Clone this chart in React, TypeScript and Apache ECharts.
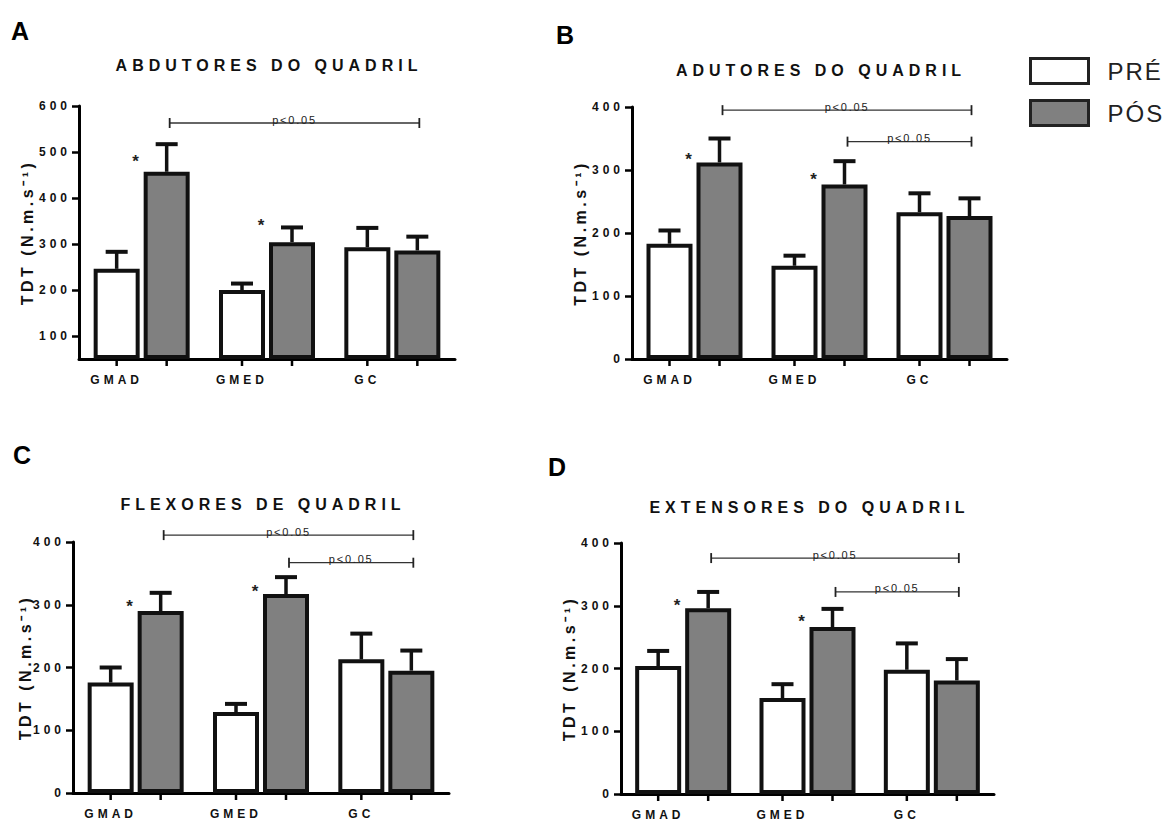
import React, { useEffect, useRef } from 'react';
import * as echarts from 'echarts';

// ---------- data ----------
const categories = ['GMAD', 'GMED', 'GC'];
const groupNames = ['PRÉ', 'PÓS'];
const panelLetters = ['A', 'B', 'C', 'D'];
const panelTitles = [
  'ABDUTORES DO QUADRIL',
  'ADUTORES DO QUADRIL',
  'FLEXORES DE QUADRIL',
  'EXTENSORES DO QUADRIL',
];
const yName = 'TDT (N.m.s⁻¹)';
const pText = 'p<0.05';

// A - abdutores
const preA = [246, 200, 293];
const preErrA = [37, 14, 42];
const posA = [457, 304, 286];
const posErrA = [60, 32, 30];
const starA = [489, 349, null];
const bracketsA = [[0, 2, 563]];
const yTicksA = [100, 200, 300, 400, 500, 600];

// B - adutores
const preB = [183, 148, 233];
const preErrB = [21, 16, 30];
const posB = [312, 277, 227];
const posErrB = [38, 37, 28];
const starB = [323, 291, null];
const bracketsB = [[0, 2, 395], [1, 2, 345]];

// C - flexores
const preC = [176, 129, 213];
const preErrC = [24, 13, 41];
const posC = [290, 317, 195];
const posErrC = [29, 27, 32];
const starC = [303, 328, null];
const bracketsC = [[0, 2, 411], [1, 2, 367]];

// D - extensores
const preD = [204, 153, 198];
const preErrD = [24, 22, 42];
const posD = [296, 266, 181];
const posErrD = [26, 29, 34];
const starD = [307, 282, null];
const bracketsD = [[0, 2, 376], [1, 2, 322]];

const yTicks400 = [0, 100, 200, 300, 400];

const panels = [
  { pre: preA, preErr: preErrA, pos: posA, posErr: posErrA, stars: starA, brackets: bracketsA, yMin: 50, yMax: 600, ticks: yTicksA },
  { pre: preB, preErr: preErrB, pos: posB, posErr: posErrB, stars: starB, brackets: bracketsB, yMin: 0, yMax: 400, ticks: yTicks400 },
  { pre: preC, preErr: preErrC, pos: posC, posErr: posErrC, stars: starC, brackets: bracketsC, yMin: 0, yMax: 400, ticks: yTicks400 },
  { pre: preD, preErr: preErrD, pos: posD, posErr: posErrD, stars: starD, brackets: bracketsD, yMin: 0, yMax: 400, ticks: yTicks400 },
];

// ---------- layout ----------
const layouts = [
  { grid: { left: 79, top: 106, width: 376, height: 253 }, title: [269, 65], letter: [11, 30.5], nameGap: 44 },
  { grid: { left: 632, top: 107, width: 375, height: 252 }, title: [821, 70], letter: [556, 34.5], nameGap: 44 },
  { grid: { left: 73, top: 542, width: 376, height: 251 }, title: [263, 504.5], letter: [13, 455], nameGap: 40 },
  { grid: { left: 621, top: 543, width: 373, height: 251 }, title: [809.5, 507], letter: [548, 466.5], nameGap: 44 },
];

const BAR_W = 46;
const GAP_PX = 4;
const OFF = (BAR_W + GAP_PX) / 2;
const FAM = 'Liberation Sans';

const CSS = `
#root text[style*="spcT"]{letter-spacing:5px}
#root text[style*="spcK"]{letter-spacing:4px}
#root text[style*="spcN"]{letter-spacing:3.5px}
#root text[style*="spcP"]{letter-spacing:1.8px}
#root text[style*="spcL"]{letter-spacing:2px}
`;

function makeErrRender(yMin: number) {
  return (params: any, api: any) => {
    const cat = api.value(0);
    const g = api.value(1);
    const mean = api.value(2);
    const err = api.value(3);
    const base = api.coord([cat, mean]);
    const top = api.coord([cat, mean + err]);
    const bottom = api.coord([cat, yMin]);
    const x = base[0] + (g === 0 ? -OFF : OFF);
    return {
      type: 'group',
      children: [
        { type: 'line', shape: { x1: x, y1: base[1], x2: x, y2: top[1] }, style: { stroke: '#111', lineWidth: 3.5 } },
        { type: 'line', shape: { x1: x - 11, y1: top[1], x2: x + 11, y2: top[1] }, style: { stroke: '#111', lineWidth: 4 } },
        { type: 'line', shape: { x1: x, y1: bottom[1], x2: x, y2: bottom[1] + 7 }, style: { stroke: '#000', lineWidth: 2.5 } },
      ],
    };
  };
}

function starRender(params: any, api: any) {
  const p = api.coord([api.value(0), api.value(1)]);
  return {
    type: 'text',
    x: p[0] - 6,
    y: p[1] + 4,
    style: {
      text: '*', font: `bold 17px ${FAM}`, fill: '#222',
      align: 'center', verticalAlign: 'middle', textAlign: 'center', textVerticalAlign: 'middle',
    },
  };
}

function bracketRender(params: any, api: any) {
  const a = api.coord([api.value(0), api.value(2)]);
  const b = api.coord([api.value(1), api.value(2)]);
  const x1 = a[0] + OFF + 3;
  const x2 = b[0] + OFF + 2;
  const y = a[1];
  return {
    type: 'group',
    children: [
      { type: 'line', shape: { x1, y1: y, x2, y2: y }, style: { stroke: '#333', lineWidth: 1.3 } },
      { type: 'line', shape: { x1, y1: y - 5, x2: x1, y2: y + 5 }, style: { stroke: '#222', lineWidth: 1.8 } },
      { type: 'line', shape: { x1: x2, y1: y - 5, x2, y2: y + 5 }, style: { stroke: '#222', lineWidth: 1.8 } },
      {
        type: 'text', x: (x1 + x2) / 2, y: y + 2,
        style: {
          text: pText, font: `11px ${FAM}, spcP`, fill: '#222',
          align: 'center', verticalAlign: 'bottom', textAlign: 'center', textVerticalAlign: 'bottom',
        },
      },
    ],
  };
}

function buildOption() {
  const grid = layouts.map((l) => ({ ...l.grid, containLabel: false, outerBoundsMode: 'none' }));
  const xAxis = panels.map((p, i) => ({
    type: 'category',
    gridIndex: i,
    data: categories,
    axisLine: { show: true, lineStyle: { color: '#000', width: 3 } },
    axisTick: { show: false },
    splitLine: { show: false },
    axisLabel: {
      interval: 0,
      margin: 15,
      padding: [0, 2 * OFF, 0, 0],
      fontSize: 12,
      fontWeight: 'bold',
      fontFamily: `${FAM}, spcK`,
      color: '#111',
    },
  }));
  const yAxis = panels.map((p, i) => ({
    type: 'value',
    gridIndex: i,
    min: p.yMin,
    max: p.yMax,
    startValue: p.yMin,
    splitLine: { show: false },
    axisLine: { show: true, lineStyle: { color: '#000', width: 3 } },
    axisTick: { show: true, length: 7, lineStyle: { color: '#000', width: 2.5 }, customValues: p.ticks },
    axisLabel: {
      margin: 8,
      fontSize: 12,
      fontWeight: 'bold',
      fontFamily: `${FAM}, spcK`,
      color: '#111',
      customValues: p.ticks,
    },
    name: yName,
    nameLocation: 'middle',
    nameGap: layouts[i].nameGap,
    nameTextStyle: { fontSize: 16, fontWeight: 'bold', fontFamily: `${FAM}, spcN`, color: '#111' },
  }));

  const series: any[] = [];
  panels.forEach((p, i) => {
    series.push({
      type: 'bar', name: groupNames[0], xAxisIndex: i, yAxisIndex: i, data: p.pre,
      barWidth: BAR_W, barGap: `${(GAP_PX / BAR_W) * 100}%`, silent: true, z: 2,
      itemStyle: { color: '#ffffff', borderColor: '#111', borderWidth: 4 },
    });
    series.push({
      type: 'bar', name: groupNames[1], xAxisIndex: i, yAxisIndex: i, data: p.pos,
      barWidth: BAR_W, barGap: `${(GAP_PX / BAR_W) * 100}%`, silent: true, z: 2,
      itemStyle: { color: '#808080', borderColor: '#111', borderWidth: 4 },
    });
    const errData: number[][] = [];
    categories.forEach((c, k) => {
      errData.push([k, 0, p.pre[k], p.preErr[k]]);
      errData.push([k, 1, p.pos[k], p.posErr[k]]);
    });
    series.push({
      type: 'custom', xAxisIndex: i, yAxisIndex: i, data: errData, encode: { x: 0, y: 2 },
      renderItem: makeErrRender(p.yMin), silent: true, z: 3, clip: false,
    });
    const starData = p.stars.map((v, k) => (v == null ? null : [k, v])).filter((d) => d) as number[][];
    series.push({
      type: 'custom', xAxisIndex: i, yAxisIndex: i, data: starData, encode: { x: 0, y: 1 },
      renderItem: starRender, silent: true, z: 4, clip: false,
    });
    series.push({
      type: 'custom', xAxisIndex: i, yAxisIndex: i, data: p.brackets, encode: { x: [0, 1], y: 2 },
      renderItem: bracketRender, silent: true, z: 4, clip: false,
    });
  });

  const graphic: any[] = [];
  layouts.forEach((l, i) => {
    graphic.push({
      type: 'text', x: l.title[0], y: l.title[1], silent: true,
      style: {
        text: panelTitles[i], font: `bold 16px ${FAM}, spcT`, fill: '#111',
        align: 'center', verticalAlign: 'middle', textAlign: 'center', textVerticalAlign: 'middle',
      },
    });
    graphic.push({
      type: 'text', x: l.letter[0], y: l.letter[1], silent: true,
      style: {
        text: panelLetters[i], font: `bold 25px ${FAM}`, fill: '#000',
        align: 'left', verticalAlign: 'middle', textAlign: 'left', textVerticalAlign: 'middle',
      },
    });
  });

  return {
    animation: false,
    backgroundColor: '#ffffff',
    grid,
    xAxis,
    yAxis,
    series,
    graphic,
    legend: {
      show: true,
      data: groupNames,
      orient: 'vertical',
      left: 1029,
      top: 57,
      padding: 0,
      itemWidth: 58,
      itemHeight: 25,
      itemGap: 14,
      icon: 'rect',
      selectedMode: false,
      itemStyle: { borderWidth: 3, borderColor: '#222' },
      textStyle: { fontSize: 24, color: '#222', fontFamily: `${FAM}, spcL`, padding: [0, 0, 0, 14] },
    },
  };
}

export default function App() {
  const ref = useRef<HTMLDivElement>(null);
  useEffect(() => {
    if (!ref.current) return;
    const chart = echarts.init(ref.current, null, { renderer: 'svg' });
    chart.setOption(buildOption() as any);
    return () => chart.dispose();
  }, []);
  return (
    <>
      <style>{CSS}</style>
      <div
        ref={ref}
        style={{ position: 'absolute', left: 0, top: 0, width: 1165, height: 821, background: '#fff' }}
      />
    </>
  );
}
